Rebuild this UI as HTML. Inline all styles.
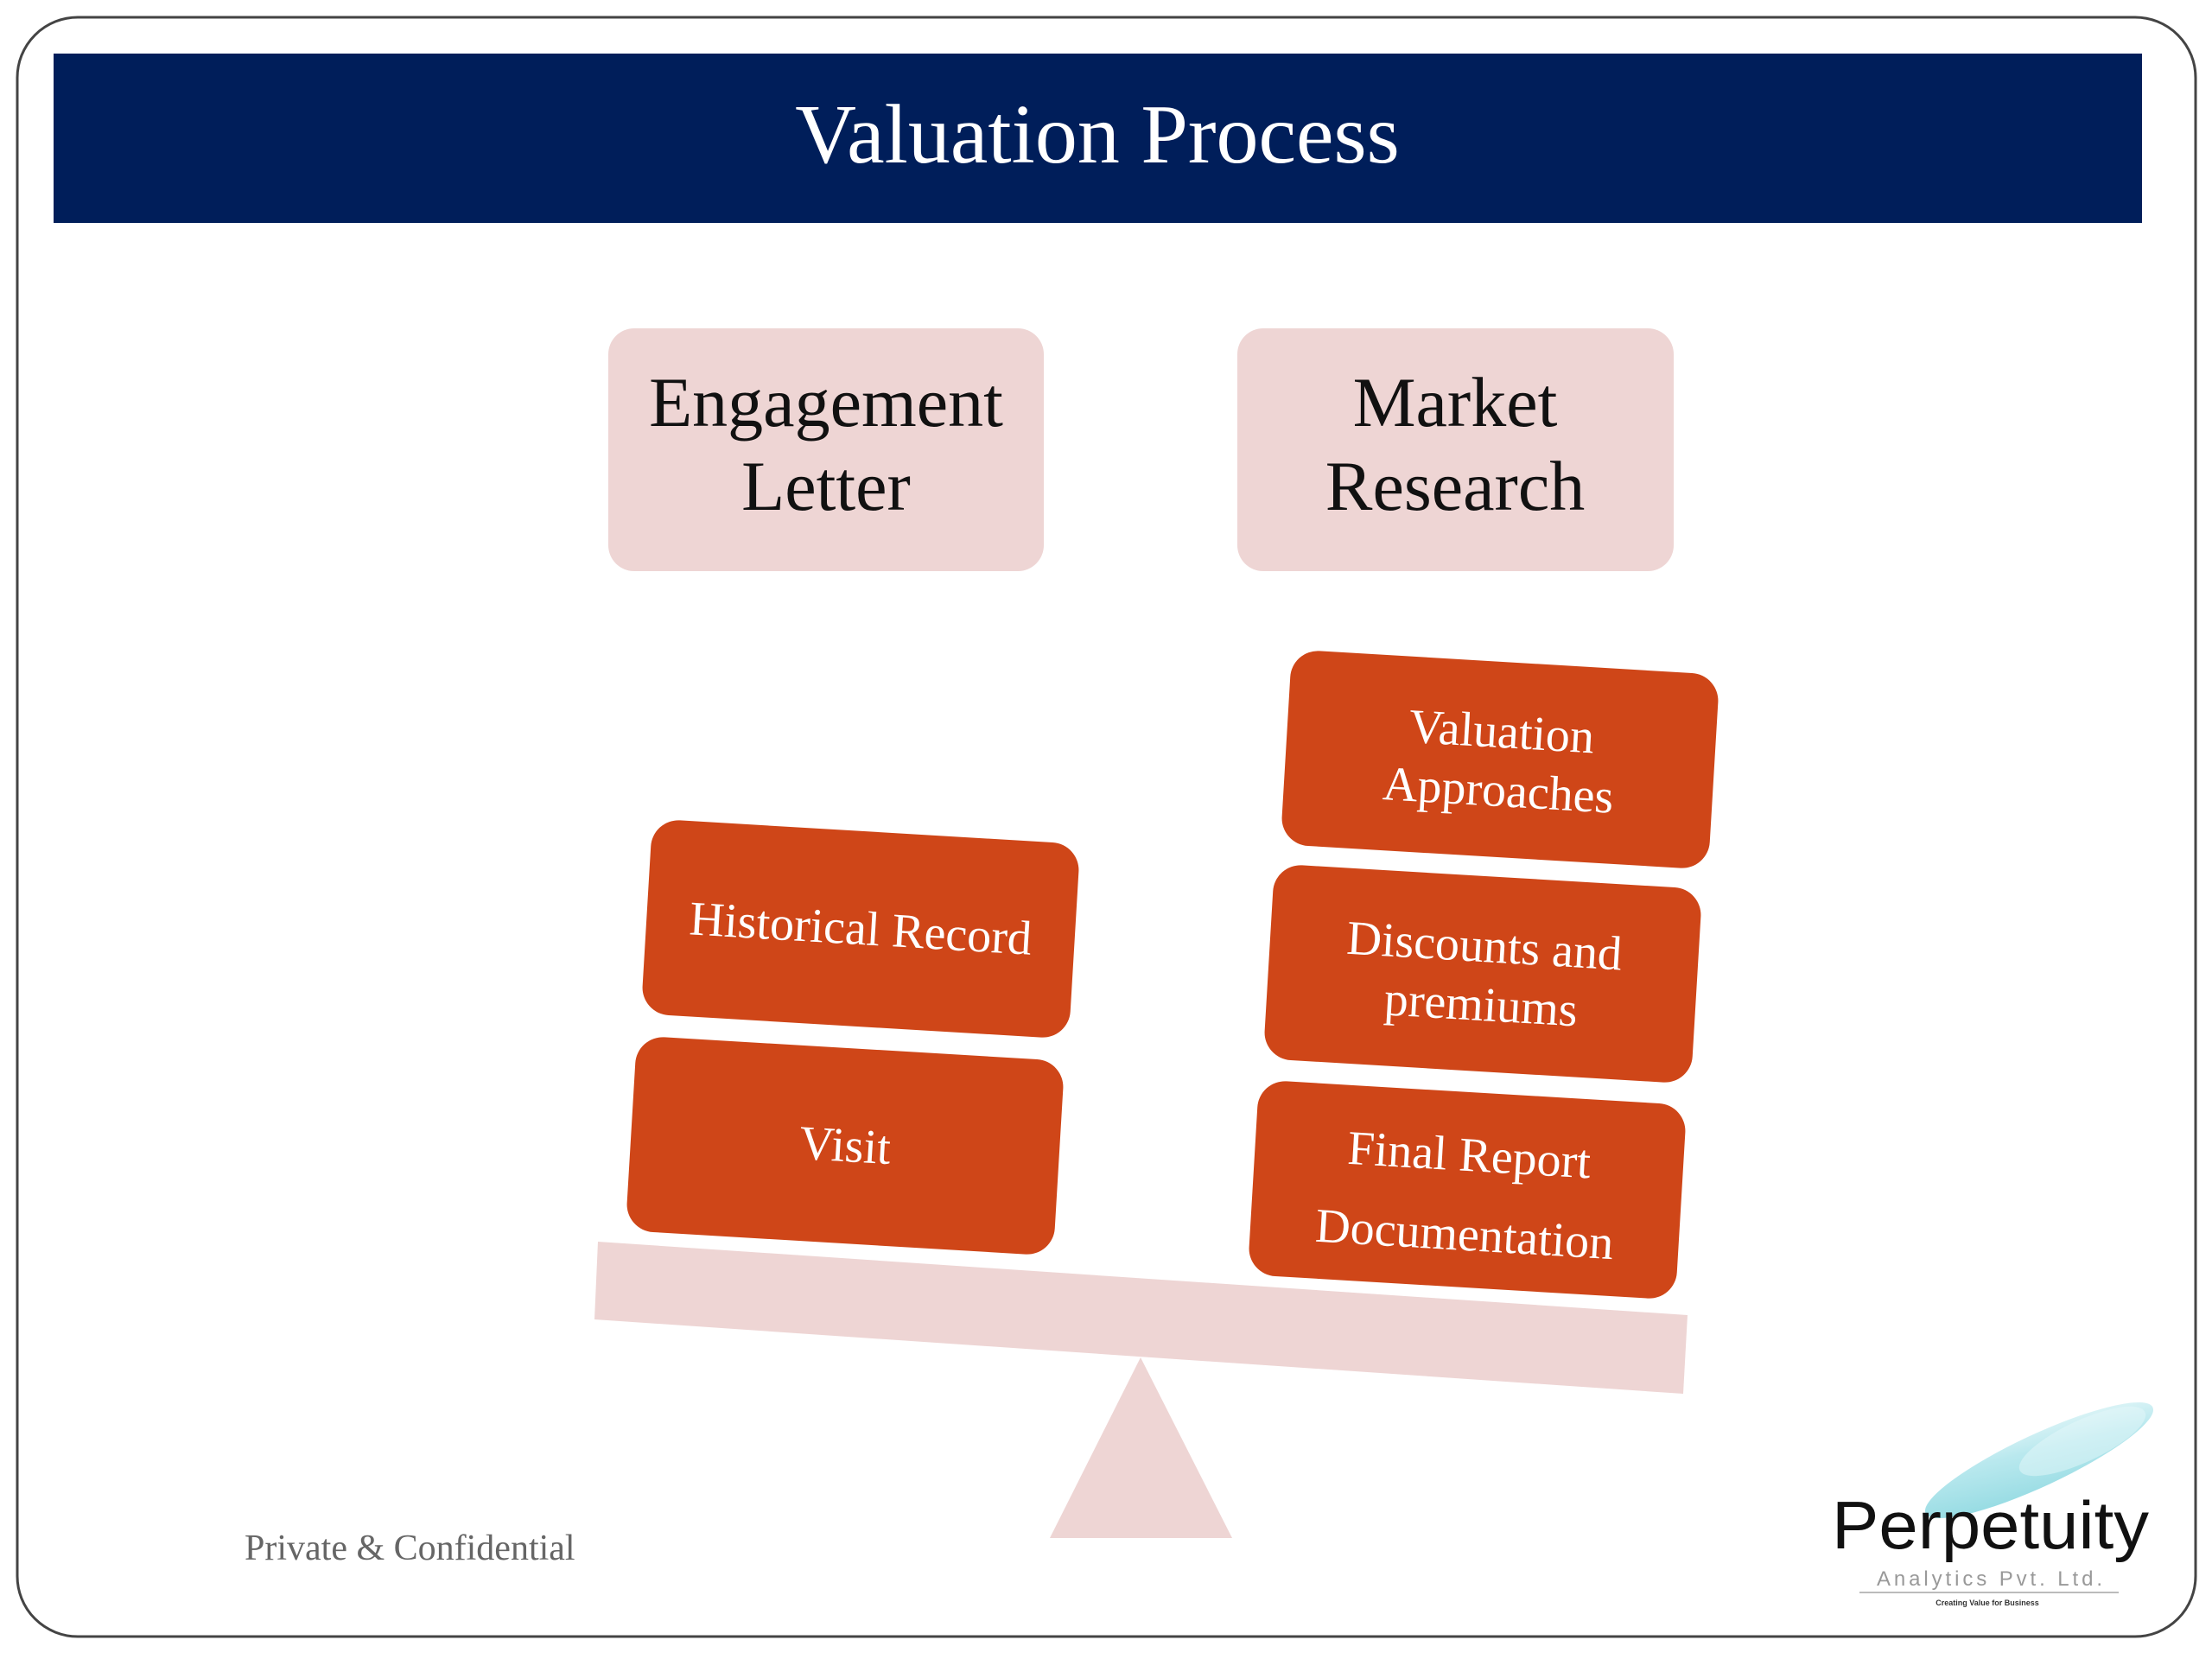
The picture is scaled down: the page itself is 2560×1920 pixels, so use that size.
<!DOCTYPE html>
<html><head><meta charset="utf-8"><style>
html,body{margin:0;padding:0;background:#fff;}
svg{display:block;}
</style></head><body>
<svg width="2560" height="1920" viewBox="0 0 2560 1920" xmlns="http://www.w3.org/2000/svg">
<defs>
<linearGradient id="sw" x1="0" y1="1" x2="1" y2="0">
<stop offset="0" stop-color="#7fd3dc" stop-opacity="0.9"/>
<stop offset="0.6" stop-color="#a8e3ea" stop-opacity="0.8"/>
<stop offset="1" stop-color="#d6f2f5" stop-opacity="0.6"/>
</linearGradient>
</defs>
<rect x="0" y="0" width="2560" height="1920" fill="#fff"/>
<rect x="20" y="20" width="2521" height="1874" rx="70" fill="#fff" stroke="#444" stroke-width="3"/>
<rect x="62" y="62" width="2417" height="196" fill="#001e5a"/>
<text x="1270" y="188" text-anchor="middle" font-family="Liberation Serif, serif" font-size="98" fill="#fff">Valuation Process</text>

<rect x="704" y="380" width="504" height="281" rx="30" fill="#eed5d4"/>
<text x="956" y="493" text-anchor="middle" font-family="Liberation Serif, serif" font-size="82" fill="#111">Engagement</text>
<text x="956" y="590" text-anchor="middle" font-family="Liberation Serif, serif" font-size="82" fill="#111">Letter</text>
<rect x="1432" y="380" width="505" height="281" rx="30" fill="#eed5d4"/>
<text x="1684" y="493" text-anchor="middle" font-family="Liberation Serif, serif" font-size="82" fill="#111">Market</text>
<text x="1684" y="590" text-anchor="middle" font-family="Liberation Serif, serif" font-size="82" fill="#111">Research</text>

<g font-family="Liberation Serif, serif" font-size="56" fill="#fff" text-anchor="middle">
<g transform="translate(996,1075) rotate(3.4)">
<rect x="-248" y="-113" width="496" height="226" rx="32" fill="#cf4618"/>
<text x="0" y="18">Historical Record</text></g>
<g transform="translate(978,1326) rotate(3.4)">
<rect x="-248" y="-113" width="496" height="226" rx="32" fill="#cf4618"/>
<text x="0" y="18">Visit</text></g>
<g transform="translate(1736,879) rotate(3.4)">
<rect x="-248" y="-113" width="496" height="226" rx="32" fill="#cf4618"/>
<text x="0" y="-14">Valuation</text><text x="0" y="54">Approaches</text></g>
<g transform="translate(1716,1127) rotate(3.4)">
<rect x="-248" y="-113" width="496" height="226" rx="32" fill="#cf4618"/>
<text x="0" y="-14">Discounts and</text><text x="0" y="54">premiums</text></g>
<g transform="translate(1698,1377) rotate(3.4)">
<rect x="-248" y="-113" width="496" height="226" rx="32" fill="#cf4618"/>
<text x="0" y="-22">Final Report</text><text x="0" y="70">Documentation</text></g>
</g>

<polygon points="692,1437 1953,1522 1948,1613 688,1527" fill="#eed5d4"/>
<polygon points="1320,1571 1426,1780 1215,1780" fill="#eed5d4"/>

<text x="283" y="1805" font-family="Liberation Serif, serif" font-size="42" fill="#666">Private &amp; Confidential</text>

<ellipse cx="2360" cy="1690" rx="145" ry="30" transform="rotate(-25 2360 1690)" fill="url(#sw)"/>
<ellipse cx="2410" cy="1668" rx="80" ry="24" transform="rotate(-25 2410 1668)" fill="#e6f7f9" opacity="0.5"/>
<text x="2120" y="1792" font-family="Liberation Sans, sans-serif" font-size="78" fill="#111" textLength="367" lengthAdjust="spacingAndGlyphs">Perpetuity</text>
<text x="2172" y="1835" font-family="Liberation Sans, sans-serif" font-size="24" fill="#999" textLength="261" lengthAdjust="spacing">Analytics Pvt. Ltd.</text>
<line x1="2152" y1="1843" x2="2452" y2="1843" stroke="#bbb" stroke-width="2"/>
<text x="2300" y="1858" text-anchor="middle" font-family="Liberation Sans, sans-serif" font-size="9" font-weight="bold" fill="#333">Creating Value for Business</text>
</svg>
</body></html>
